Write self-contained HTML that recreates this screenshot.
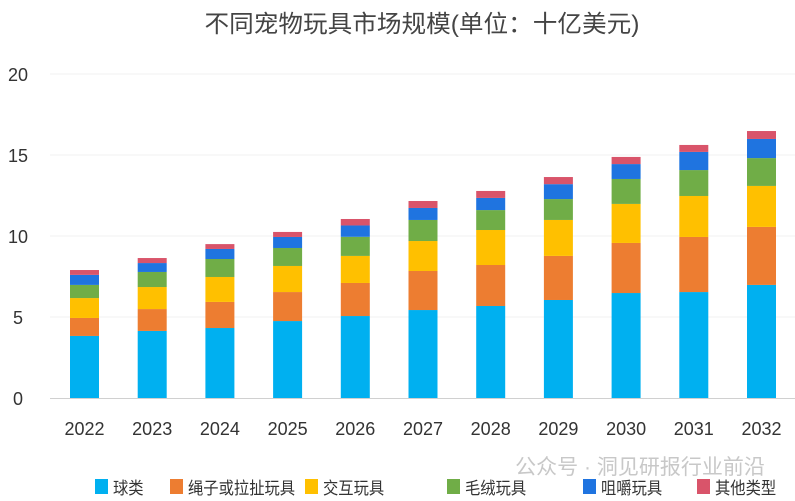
<!DOCTYPE html>
<html><head><meta charset="utf-8"><style>
body{margin:0;background:#fff;}
svg{display:block;font-family:"Liberation Sans","Noto Sans CJK SC",sans-serif;}
</style></head><body>
<svg id="chart" width="795" height="501">
<text x="422" y="32" text-anchor="middle" font-size="24" fill="#444" textLength="435" lengthAdjust="spacingAndGlyphs">不同宠物玩具市场规模(单位：十亿美元)</text>
<g id="grid"></g><g id="bars"></g><g id="axes"></g>
<text x="640" y="474" text-anchor="middle" font-size="21" fill="#c8c8c8">公众号 · 洞见研报行业前沿</text>
<g id="legend"></g>
</svg>
<script>
const years=["2022","2023","2024","2025","2026","2027","2028","2029","2030","2031","2032"];
const ballToys=[3.83,4.14,4.32,4.75,5.06,5.43,5.68,6.05,6.48,6.54,6.98];
const ropeToys=[1.11,1.35,1.61,1.79,2.04,2.41,2.53,2.72,3.09,3.40,3.58];
const interactiveToys=[1.23,1.36,1.54,1.61,1.67,1.85,2.16,2.22,2.41,2.53,2.53];
const plushToys=[0.81,0.93,1.11,1.11,1.18,1.30,1.23,1.29,1.54,1.60,1.72];
const chewToys=[0.62,0.55,0.62,0.68,0.70,0.74,0.75,0.92,0.92,1.12,1.18];
const otherToys=[0.30,0.31,0.30,0.31,0.40,0.43,0.43,0.44,0.44,0.43,0.49];
const seriesNames=["球类","绳子或拉扯玩具","交互玩具","毛绒玩具","咀嚼玩具","其他类型"];
const yTicks=[0,5,10,15,20];
const series=[ballToys,ropeToys,interactiveToys,plushToys,chewToys,otherToys];
const colors=["#00B0F0","#ED7D31","#FFC000","#70AD47","#1F74E0","#D9546A"];
const NS="http://www.w3.org/2000/svg";
const y0=398,pxPerUnit=16.2;
const yS=v=>y0-v*pxPerUnit;
const xS=i=>84.5+i*67.7;
const bw=29;
function mk(tag,attrs,parent){const e=document.createElementNS(NS,tag);for(const k in attrs)e.setAttribute(k,attrs[k]);parent.appendChild(e);return e;}
const grid=document.getElementById('grid'),bars=document.getElementById('bars'),axes=document.getElementById('axes'),legend=document.getElementById('legend');
yTicks.forEach(t=>{
  if(t>0){const g=mk('line',{x1:50,x2:795,y1:yS(t),y2:yS(t),stroke:'#f2f2f2','stroke-width':1},grid);
  
  }
  const l=mk('text',{x:18,y:yS(t)+7,'text-anchor':'middle','font-size':18,fill:'#333'},axes);
  l.textContent=t;
  
  
});
const base=mk('line',{x1:50,x2:795,y1:y0+0.5,y2:y0+0.5,stroke:'#d0d0d0','stroke-width':1},axes);


years.forEach((yr,i)=>{
  let cum=0;
  series.forEach((s,k)=>{
    const top=cum+s[i];
    const r=mk('rect',{x:xS(i)-bw/2,y:yS(top),width:bw,height:yS(cum)-yS(top),fill:colors[k]},bars);
    
    
    cum=top;
  });
  const t=mk('text',{x:xS(i),y:435,'text-anchor':'middle','font-size':18,fill:'#333'},axes);
  t.textContent=yr;
  
  
});
const lx=[95,170,305,447,583,697];
seriesNames.forEach((n,k)=>{
  const r=mk('rect',{x:lx[k],y:479,width:13,height:15,fill:colors[k]},legend);
  
  
  const t=mk('text',{x:lx[k]+18,y:494,'font-size':17,fill:'#333',textLength:n.length*15.3,lengthAdjust:'spacingAndGlyphs'},legend);
  t.textContent=n;
  
  
});
</script>
</body></html>
